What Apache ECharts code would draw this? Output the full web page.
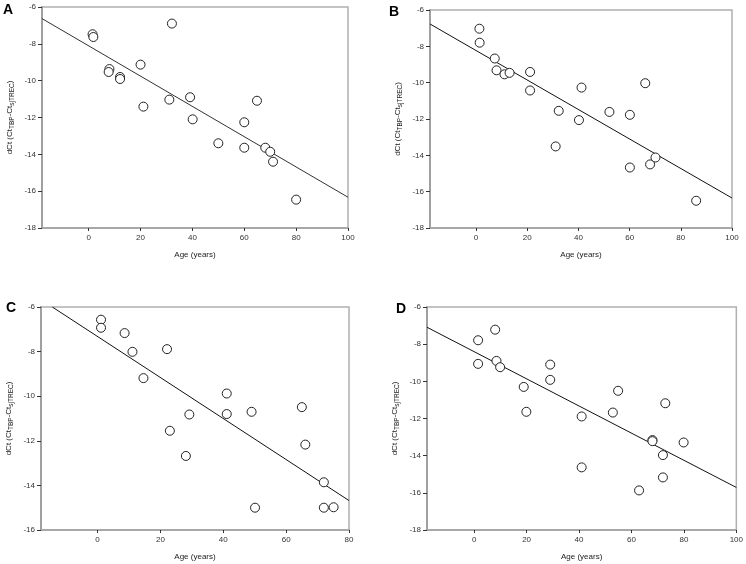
<!DOCTYPE html>
<html><head><meta charset="utf-8">
<script src="https://cdn.jsdelivr.net/npm/echarts@6/dist/echarts.min.js"></script>
<style>html,body{margin:0;padding:0;background:#fff}#c{width:746px;height:564px}</style>
</head><body><div id="c"></div>
<script>
// Panel A
const ageA = [1.5,1.8,8,7.7,12.1,12.1,20,21.1,32.1,31.1,39.1,40.1,50,60,60,64.9,68.1,70,71.1,80];
const dctA = [-7.48,-7.63,-9.37,-9.53,-9.80,-9.91,-9.13,-11.41,-6.90,-11.03,-10.90,-12.10,-13.40,-12.26,-13.64,-11.09,-13.64,-13.86,-14.40,-16.46];
const fitA = [[-18,-6.63],[100,-16.33]];
// Panel B
const ageB = [1.3,1.4,7.3,8,11.1,13.1,21.1,21.1,32.3,31.1,40.2,41.2,52.1,60.1,60.1,66.1,68,70.1,86];
const dctB = [-7.03,-7.80,-8.67,-9.32,-9.54,-9.46,-9.41,-10.43,-11.55,-13.51,-12.06,-10.27,-11.61,-11.77,-14.67,-10.03,-14.50,-14.12,-16.50];
const fitB = [[-18,-6.77],[100,-16.35]];
// Panel C
const ageC = [1.1,1.1,8.6,11.1,22.1,14.6,23,29.2,28.1,41.1,41.1,49,50.1,65,66.1,72,72,75.1];
const dctC = [-6.57,-6.93,-7.17,-8.01,-7.89,-9.19,-11.55,-10.82,-12.68,-9.88,-10.80,-10.70,-15.00,-10.49,-12.17,-13.86,-15.00,-14.98];
const fitC = [[-14.4,-6],[80,-14.68]];
// Panel D
const ageD = [1.5,1.5,8,8.5,9.9,18.9,19.9,29,29,41,41,52.9,54.9,62.9,68,68,72,72,72.9,79.9];
const dctD = [-7.79,-9.06,-7.22,-8.90,-9.24,-10.30,-11.64,-9.10,-9.92,-11.89,-14.63,-11.68,-10.51,-15.87,-13.16,-13.22,-13.97,-15.17,-11.18,-13.29];
const fitD = [[-18,-7.09],[100,-15.71]];

const panelLabels = ['A','B','C','D'];
const xRanges = [[-18,100],[-18,100],[-18,80],[-18,100]];
const yRanges = [[-18,-6],[-18,-6],[-16,-6],[-18,-6]];
const xName = 'Age (years)';
const yName = '{n|dCt (Ct}{s|TBP}{n|-Ct}{s|sjTREC}{n|)}';

const ages = [ageA, ageB, ageC, ageD];
const dcts = [dctA, dctB, dctC, dctD];
const fits = [fitA, fitB, fitC, fitD];

const grids = [
  {left: 42, top: 7, width: 306, height: 221},
  {left: 430, top: 10, width: 302, height: 218},
  {left: 41, top: 307, width: 308, height: 223},
  {left: 427, top: 307, width: 310, height: 223}
];
const labelPos = [[3,3],[389,5],[6,301],[396,302]];
const FONT = 'Liberation Sans, Arial, sans-serif';

const option = {
  backgroundColor: '#fff',
  animation: false,
  grid: grids.map(g => Object.assign({show: true, borderColor: '#b0b0b0', borderWidth: 1.5, backgroundColor: 'transparent'}, g)),
  xAxis: grids.map((g, i) => ({
    type: 'value', gridIndex: i, min: xRanges[i][0], max: xRanges[i][1], splitNumber: 5,
    name: xName, nameLocation: 'middle', nameGap: 23,
    nameTextStyle: {fontFamily: FONT, fontSize: 8, color: '#222'},
    axisLine: {show: true, onZero: false, lineStyle: {color: '#a0a0a0', width: 1.5}},
    axisTick: {show: true, length: 3, lineStyle: {color: '#333', width: 1}},
    axisLabel: {fontFamily: FONT, fontSize: 8, color: '#333', margin: 6, showMinLabel: false},
    splitLine: {show: false}
  })),
  yAxis: grids.map((g, i) => ({
    type: 'value', gridIndex: i, min: yRanges[i][0], max: yRanges[i][1], interval: 2,
    name: yName, nameLocation: 'middle', nameRotate: 90, nameGap: 26,
    nameTextStyle: {fontFamily: FONT, color: '#222',
      rich: {n: {fontFamily: FONT, fontSize: 8, color: '#222', lineHeight: 10, verticalAlign: 'top'},
             s: {fontFamily: FONT, fontSize: 6.5, color: '#222', lineHeight: 7, verticalAlign: 'bottom'}}},
    axisLine: {show: true, onZero: false, lineStyle: {color: '#a0a0a0', width: 2}},
    axisTick: {show: true, length: 4, lineStyle: {color: '#333', width: 1}},
    axisLabel: {fontFamily: FONT, fontSize: 8, color: '#333', margin: 6},
    splitLine: {show: false}
  })),
  graphic: panelLabels.map((t, i) => ({
    type: 'text', left: labelPos[i][0], top: labelPos[i][1],
    style: {text: t, font: 'bold 14px ' + FONT, fill: '#000'}
  })),
  series: []
};
for (let i = 0; i < 4; i++) {
  option.series.push({
    type: 'line', xAxisIndex: i, yAxisIndex: i, data: fits[i], symbol: 'none',
    lineStyle: {color: i === 0 ? '#333' : '#111', width: 1}, z: 2, silent: true
  });
  option.series.push({
    type: 'scatter', xAxisIndex: i, yAxisIndex: i,
    data: ages[i].map((a, k) => [a, dcts[i][k]]),
    symbol: 'circle', symbolSize: 9,
    itemStyle: {color: '#fff', borderColor: '#222', borderWidth: 1, opacity: 1}, z: 3
  });
}
const chart = echarts.init(document.getElementById('c'), null, {renderer: 'canvas'});
chart.setOption(option);
</script>
</body></html>
